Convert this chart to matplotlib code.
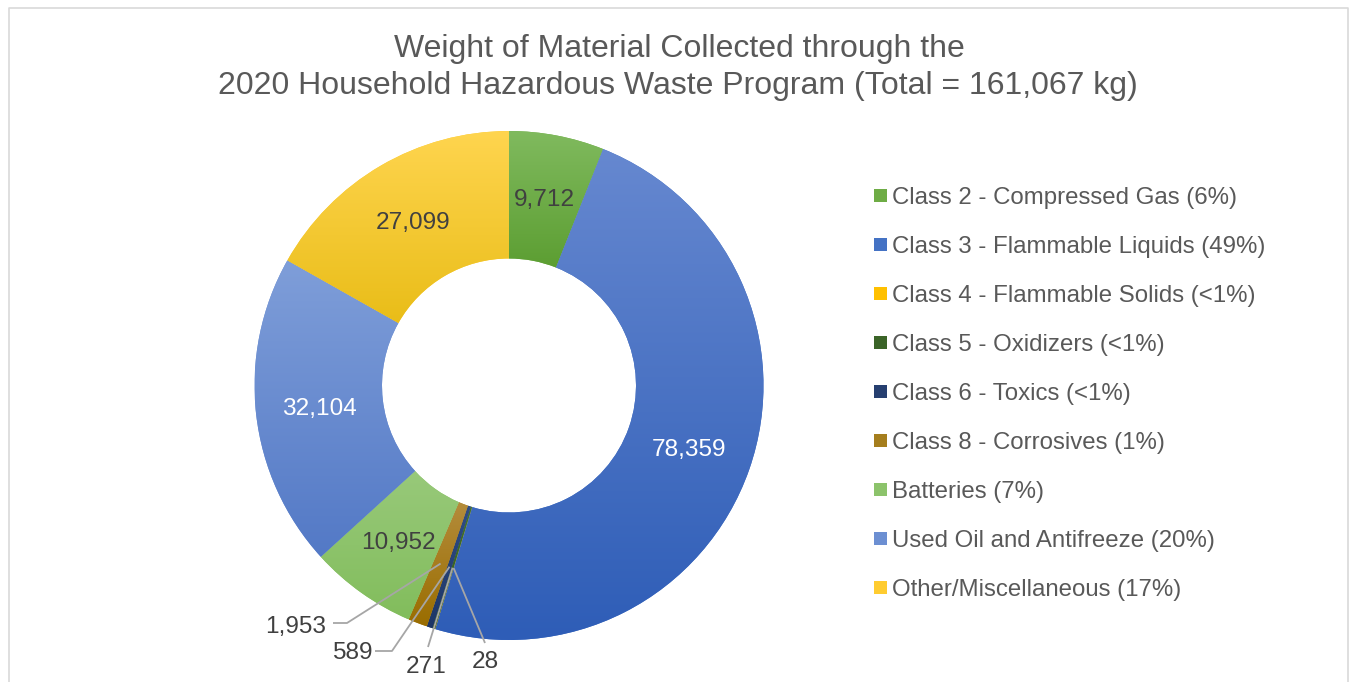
import numpy as np
import matplotlib
matplotlib.use("Agg")
import matplotlib.pyplot as plt
from matplotlib.patches import Rectangle
from matplotlib.colors import to_rgb

plt.rcParams["font.family"] = ["Liberation Sans", "DejaVu Sans"]

# ---------------- data ----------------
categories = [
    "Class 2 - Compressed Gas",
    "Class 3 - Flammable Liquids",
    "Class 4 - Flammable Solids",
    "Class 5 - Oxidizers",
    "Class 6 - Toxics",
    "Class 8 - Corrosives",
    "Batteries",
    "Used Oil and Antifreeze",
    "Other/Miscellaneous",
]
weights_kg = [9712, 78359, 28, 271, 589, 1953, 10952, 32104, 27099]
pct_labels = ["6%", "49%", "<1%", "<1%", "<1%", "1%", "7%", "20%", "17%"]
title_lines = [
    "Weight of Material Collected through the",
    "2020 Household Hazardous Waste Program (Total = 161,067 kg)",
]

# ---------------- style ----------------
top_colors = ["#80BA5E", "#6688D0", "#FFD24A", "#45732E", "#2F4D86", "#B48C3C",
              "#98C97A", "#7F9ED9", "#FFD54F"]
bot_colors = ["#5C9E32", "#2E5DB7", "#EDB400", "#2F5519", "#1D3566", "#9A6D00",
              "#82BD5C", "#5379C6", "#E9BD18"]
legend_colors = ["#6EAC45", "#4472C4", "#FFC000", "#3B6428", "#263F70", "#A57E1D",
                 "#8CC36B", "#6C8FD2", "#FFCC30"]
inside_text_colors = {0: "#404040", 1: "white", 6: "#404040", 7: "white", 8: "#404040"}
# outer label layout (pixel coords): text centre, and leader polyline start points
outer_layout = {
    5: dict(text=(296, 627), line=[(333, 623), (347, 623)]),
    4: dict(text=(352, 653), line=[(375, 651), (392, 651)]),
    3: dict(text=(426, 667), line=[(428, 647)]),
    2: dict(text=(485, 662), line=[(485, 643)]),
}

W, H = 1351, 682
fig = plt.figure(figsize=(W / 100, H / 100), dpi=100)
ax = fig.add_axes([0, 0, 1, 1])


def Y(yp):
    return H - yp


cx, cy = 509.0, Y(385.5)
R, r_in = 254.5, 127.0

wedges, _ = ax.pie(
    weights_kg,
    radius=R,
    center=(cx, cy),
    startangle=90,
    counterclock=False,
    colors=legend_colors,
    wedgeprops=dict(width=R - r_in, linewidth=0),
)

# vertical gradient fill per slice
for w, top, bot in zip(wedges, top_colors, bot_colors):
    ext = w.get_path().get_extents()
    if ext.width < 0.5:
        continue
    t = np.linspace(0, 1, 256)[:, None, None]
    grad = np.array(to_rgb(bot))[None, None, :] * (1 - t) + np.array(to_rgb(top))[None, None, :] * t
    im = ax.imshow(grad, extent=(ext.x0, ext.x1, ext.y0, ext.y1), origin="lower",
                   aspect="auto", interpolation="bilinear", zorder=2)
    im.set_clip_path(w)

mid_r = (R + r_in) / 2.0


def mid_point(w):
    th = np.deg2rad((w.theta1 + w.theta2) / 2.0)
    return cx + mid_r * np.cos(th), cy + mid_r * np.sin(th)


label_fs = 17.6
for i, (w, v) in enumerate(zip(wedges, weights_kg)):
    mx, my = mid_point(w)
    if i in inside_text_colors:
        ax.text(mx, my - 2, f"{v:,}", ha="center", va="center", fontsize=label_fs,
                color=inside_text_colors[i], zorder=5)
    else:
        lay = outer_layout[i]
        tx, ty = lay["text"]
        ax.text(tx, Y(ty), f"{v:,}", ha="center", va="center", fontsize=label_fs,
                color="#404040", zorder=5)
        pts = [(px, Y(py)) for px, py in lay["line"]] + [(mx, my)]
        xs, ys = zip(*pts)
        ax.plot(xs, ys, color="#A6A6A6", lw=1.3, zorder=4, solid_capstyle="butt")

# title
ax.text(679, Y(57), title_lines[0], ha="center", va="baseline", fontsize=23.0, color="#595959")
ax.text(678, Y(94), title_lines[1], ha="center", va="baseline", fontsize=23.0, color="#595959")

# legend
for i, (cat, pct, col) in enumerate(zip(categories, pct_labels, legend_colors)):
    yc = 195 + 49 * i
    ax.add_patch(Rectangle((874, Y(yc) - 6.5), 12.5, 13, facecolor=col, edgecolor="none", zorder=3))
    ax.text(892, Y(yc + 9), f"{cat} ({pct})", ha="left", va="baseline", fontsize=17.3,
            color="#595959")

# chart border
ax.plot([8.5, 8.5, 1347.5, 1347.5], [0, Y(7.5), Y(7.5), 0], color="#D9D9D9", lw=1.2, zorder=1)

ax.set_xlim(0, W)
ax.set_ylim(0, H)
ax.set_aspect("auto")
ax.axis("off")

fig.savefig("out.png", dpi=100)
